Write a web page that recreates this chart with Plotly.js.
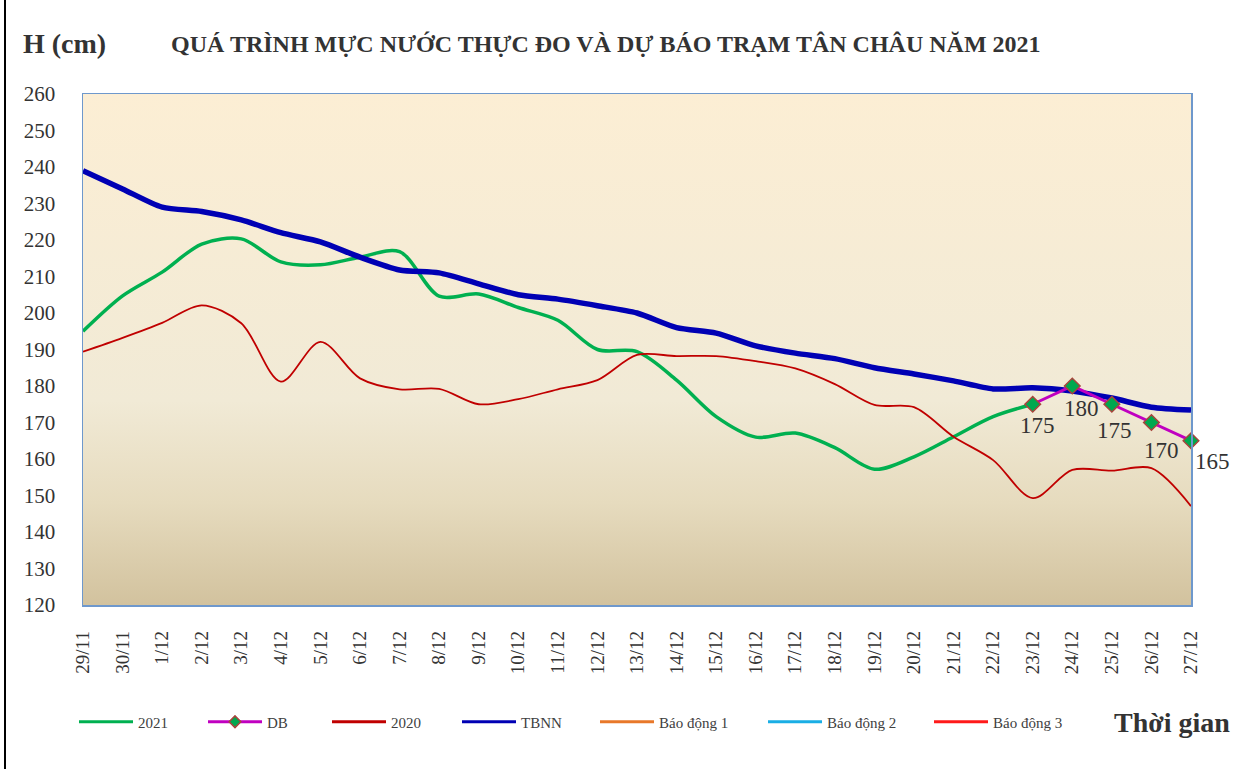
<!DOCTYPE html>
<html>
<head>
<meta charset="utf-8">
<script src="https://cdn.plot.ly/plotly-3.0.1.min.js"></script>
<style>
html,body{margin:0;padding:0;background:#fff;}
#chart{width:1241px;height:769px;}
</style>
</head>
<body>
<div id="chart"></div>
<script>
// Categories (dates)
const dates = ["29/11","30/11","1/12","2/12","3/12","4/12","5/12","6/12","7/12","8/12","9/12","10/12","11/12","12/12","13/12","14/12","15/12","16/12","17/12","18/12","19/12","20/12","21/12","22/12","23/12","24/12","25/12","26/12","27/12"];
// Observed 2021 (until 23/12)
const obs2021 = [195,204.7,211.2,218.9,220.3,214,213.2,215.3,216.8,204.6,205.2,201.5,198,190,189.4,181.6,171.6,166,167.1,163.1,157.2,160.6,166.1,171.6,175];
// Forecast (DB) from 23/12
const dbDates = ["23/12","24/12","25/12","26/12","27/12"];
const dbValues = [175,180,175,170,165];
// 2020
const y2020 = [189.4,193.2,197.3,202.1,197.2,181.2,192.1,182.1,179.1,179.2,175,176.4,179.1,181.6,188.5,188.2,188.2,186.8,184.8,180.5,174.8,174.2,166.1,159.7,149.3,157,156.8,157.5,147.1];
// TBNN (long-term average)
const tbnn = [239,234,229,227.8,225.5,222,219.5,215.3,211.8,211,208,205,203.8,202,200,196,194.5,191,189,187.5,185,183.3,181.4,179.2,179.5,178.6,176.7,174.2,173.4];
// Alarm levels (cm)
const alarmNames = ["Báo động 1","Báo động 2","Báo động 3"];
const alarmLevels = [350,400,450];
const alarmColors = ["#E8782A","#1AAEE5","#FF1A1A"];

const serif = "Liberation Serif, Times New Roman, serif";
const legFont = {family: serif, size: 15, color: "#404040"};

// plot area pixel geometry
const PL = 83, PW = 1108, PT = 94, PH = 511;
const legY = (605 - 722) / PH;
function lx(px){ return (px - PL) / PW; }

const C2021 = "#00B050", CDB = "#C000C0", C2020 = "#C00000", CTB = "#0000B4";

const traces = [
  {x: dates.slice(0, obs2021.length), y: obs2021, name: "2021", type: "scatter", mode: "lines",
   line: {color: C2021, width: 3.5, shape: "spline", smoothing: 0.9}, showlegend: false},
  {x: dates, y: y2020, name: "2020", type: "scatter", mode: "lines",
   line: {color: C2020, width: 1.8, shape: "spline", smoothing: 0.9}, showlegend: false},
  {x: dates, y: tbnn, name: "TBNN", type: "scatter", mode: "lines",
   line: {color: CTB, width: 5.5, shape: "spline", smoothing: 0.7}, showlegend: false},
  {x: dbDates, y: dbValues, name: "DB", type: "scatter", mode: "lines+markers",
   line: {color: CDB, width: 3},
   marker: {symbol: "diamond", size: 12, color: "#00A84F", line: {color: "#A8443C", width: 1.5}},
   cliponaxis: false, showlegend: false}
];
alarmNames.forEach((n, i) => {
  traces.push({x: [dates[0], dates[dates.length-1]], y: [alarmLevels[i], alarmLevels[i]], name: n,
    type: "scatter", mode: "lines", line: {color: alarmColors[i], width: 2.5}, showlegend: false});
});

// legend entries (uniform symbol thickness as in the reference)
const legendDefs = [
  {name: "2021", color: C2021},
  {name: "DB", color: CDB, marker: true},
  {name: "2020", color: C2020},
  {name: "TBNN", color: CTB},
  {name: alarmNames[0], color: alarmColors[0]},
  {name: alarmNames[1], color: alarmColors[1]},
  {name: alarmNames[2], color: alarmColors[2]}
];
legendDefs.forEach((d, i) => {
  const t = {x: [null], y: [null], name: d.name, type: "scatter", mode: d.marker ? "lines+markers" : "lines",
    line: {color: d.color, width: 3}, showlegend: true, legend: i === 0 ? "legend" : "legend" + (i + 1)};
  if (d.marker) t.marker = {symbol: "diamond", size: 9, color: "#00A84F", line: {color: "#A8443C", width: 1.5}};
  traces.push(t);
});

// data label offsets (px) for the forecast values
const lblDx = [5, 9, 3, 10, 21];
const lblDy = [-21, -22, -26, -28, -21];
const dbLabels = dbValues.map((v, i) => ({
  x: dbDates[i], y: v, xref: "x", yref: "y", text: String(v), showarrow: false,
  xanchor: "center", yanchor: "middle", xshift: lblDx[i], yshift: lblDy[i],
  font: {family: serif, size: 23, color: "#333333"}
}));

const legendXs = [82, 211, 335, 465, 603, 771, 937];
const layout = {
  width: 1241, height: 769,
  margin: {l: PL, r: 1241 - PL - PW, t: PT, b: 769 - PT - PH},
  paper_bgcolor: "#ffffff",
  plot_bgcolor: "rgba(0,0,0,0)",
  showlegend: true,
  font: {family: serif, color: "#333333"},
  xaxis: {type: "category", categoryorder: "array", categoryarray: dates, range: [0, dates.length - 1],
    tickangle: -90, tickfont: {family: serif, size: 19, color: "#333333"},
    showgrid: false, zeroline: false, showline: true, mirror: true, linecolor: "#6E98CC", linewidth: 1.5,
    ticks: "", ticklabelstandoff: 17, fixedrange: true},
  yaxis: {range: [120, 260], dtick: 10, tickfont: {family: serif, size: 21, color: "#333333"},
    showgrid: false, zeroline: false, showline: true, mirror: true, linecolor: "#6E98CC", linewidth: 1.5,
    ticks: "", ticklabelstandoff: 22, fixedrange: true},
  images: [{
    source: "data:image/svg+xml;utf8," + encodeURIComponent(
      '<svg xmlns="http://www.w3.org/2000/svg" width="100" height="100" preserveAspectRatio="none"><defs><linearGradient id="g" x1="0" y1="0" x2="0" y2="1"><stop offset="0" stop-color="#FCEED4"/><stop offset="0.6" stop-color="#F1EAD6"/><stop offset="0.8" stop-color="#E6DBBE"/><stop offset="1" stop-color="#D2C29E"/></linearGradient></defs><rect width="100" height="100" fill="url(#g)"/></svg>'),
    xref: "paper", yref: "paper", x: 0, y: 1, sizex: 1, sizey: 1,
    sizing: "stretch", xanchor: "left", yanchor: "top", layer: "below"
  }],
  shapes: [{type: "line", xref: "paper", yref: "paper", x0: lx(5), x1: lx(5), y0: (605 - 769) / PH, y1: 605 / PH,
    line: {color: "#000000", width: 2}}],
  annotations: [
    {text: "<b>QUÁ TRÌNH MỰC NƯỚC THỰC ĐO VÀ DỰ BÁO TRẠM TÂN CHÂU NĂM 2021</b>", xref: "paper", yref: "paper",
     x: lx(606), y: (605 - 44) / PH, xanchor: "center", yanchor: "middle", showarrow: false,
     font: {family: serif, size: 24, color: "#333333"}},
    {text: "<b>H (cm)</b>", xref: "paper", yref: "paper", x: lx(21), y: (605 - 44) / PH,
     xanchor: "left", yanchor: "middle", showarrow: false, font: {family: serif, size: 28, color: "#333333"}},
    {text: "<b>Thời gian</b>", xref: "paper", yref: "paper", x: lx(1232), y: legY, xanchor: "right",
     yanchor: "middle", showarrow: false, font: {family: serif, size: 28, color: "#333333"}}
  ].concat(dbLabels)
};
legendDefs.forEach((d, i) => {
  const k = i === 0 ? "legend" : "legend" + (i + 1);
  layout[k] = {x: lx(legendXs[i] - 8), y: legY, xanchor: "left", yanchor: "middle", orientation: "h",
    bgcolor: "rgba(0,0,0,0)", font: legFont, itemwidth: 54, borderwidth: 0};
});

Plotly.newPlot("chart", traces, layout, {displayModeBar: false, staticPlot: true});
</script>
</body>
</html>
